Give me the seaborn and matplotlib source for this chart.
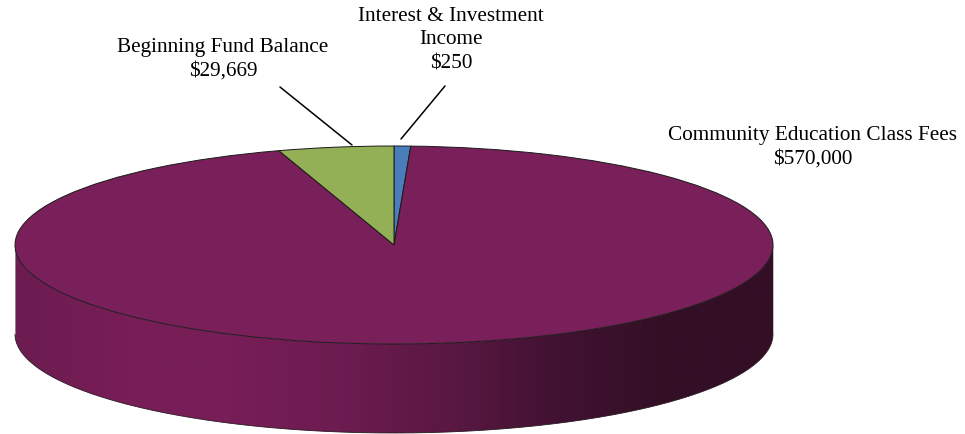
import numpy as np
import matplotlib
matplotlib.use("Agg")
import matplotlib.pyplot as plt
from matplotlib.patches import Polygon
import seaborn as sns

# Slice sizes as drawn in the picture (the smallest slice is drawn larger than its label states)
slice_names = ["Interest & Investment Income", "Community Education Class Fees", "Beginning Fund Balance"]
slice_values = [4250, 570000, 29669]
slice_colors = ["#4A7EBB", "#791F59", "#93B056"]
slice_labels = ["Interest & Investment\nIncome\n$250",
                "Community Education Class Fees\n$570,000",
                "Beginning Fund Balance\n$29,669"]

W, H = 965, 434
CX, CY, A, B = 394, 245, 379, 99
DEPTH = 89 / B

sns.set_theme(style="white")
plt.rcParams["font.family"] = ["Liberation Serif", "DejaVu Serif"]

fig = plt.figure(figsize=(W / 100, H / 100), dpi=100, facecolor="white")
ax = fig.add_axes([0, 0, 1, 1])


def px(x, y):
    return (x / W, 1 - y / H)


# side wall
t = np.linspace(np.pi, 2 * np.pi, 400)
xs, ys = np.cos(t), np.sin(t)
outline = np.r_[np.c_[xs, ys], np.c_[xs[::-1], ys[::-1] - DEPTH]]
wall = Polygon(outline, closed=True, facecolor="none", edgecolor="none", transform=ax.transData)
ax.add_patch(wall)
cmap = sns.blend_palette(["#6C1C50", "#771E57", "#771E57", "#6C1C50", "#5A1843", "#421232", "#330F26", "#330F26"],
                         as_cmap=True)
grad = np.linspace(0, 1, 512).reshape(1, -1)
im = ax.imshow(grad, cmap=cmap, extent=(-1, 1, -1 - DEPTH, 0), aspect="auto", zorder=1, interpolation="bilinear")
im.set_clip_path(wall)
ax.plot(xs, ys - DEPTH, color="#2a1a24", lw=0.6, zorder=2)
ax.plot([-1, -1], [0, -DEPTH], color="#aaaaaa", lw=0.5, zorder=2)
ax.plot([1, 1], [0, -DEPTH], color="#aaaaaa", lw=0.5, zorder=2)

# top face
wedges, _ = ax.pie(slice_values, colors=slice_colors, startangle=90, counterclock=False, radius=1,
                   wedgeprops={"edgecolor": "#1a1a1a", "linewidth": 0.7, "zorder": 3})
ax.set_aspect("auto")
ax.set_xlim(-CX / A, (W - CX) / A)
ax.set_ylim(-(H - CY) / B, CY / B)
ax.set_frame_on(False)
ax.set_xticks([])
ax.set_yticks([])

# leader lines
for (x0, y0), (x1, y1) in [((280, 87), (352, 145)), ((445, 86), (401, 139))]:
    ax.add_line(plt.Line2D(*zip(px(x0, y0), px(x1, y1)), transform=fig.transFigure, color="black", lw=1.1, zorder=5))

# labels
for label, (x, y) in zip(slice_labels, [(451, 40), (813, 147), (223, 59)]):
    fig.text(*px(x, y), label, ha="center", va="center", fontsize=15.3, linespacing=1.33, color="black")

fig.savefig("out.png", dpi=100, facecolor="white")
